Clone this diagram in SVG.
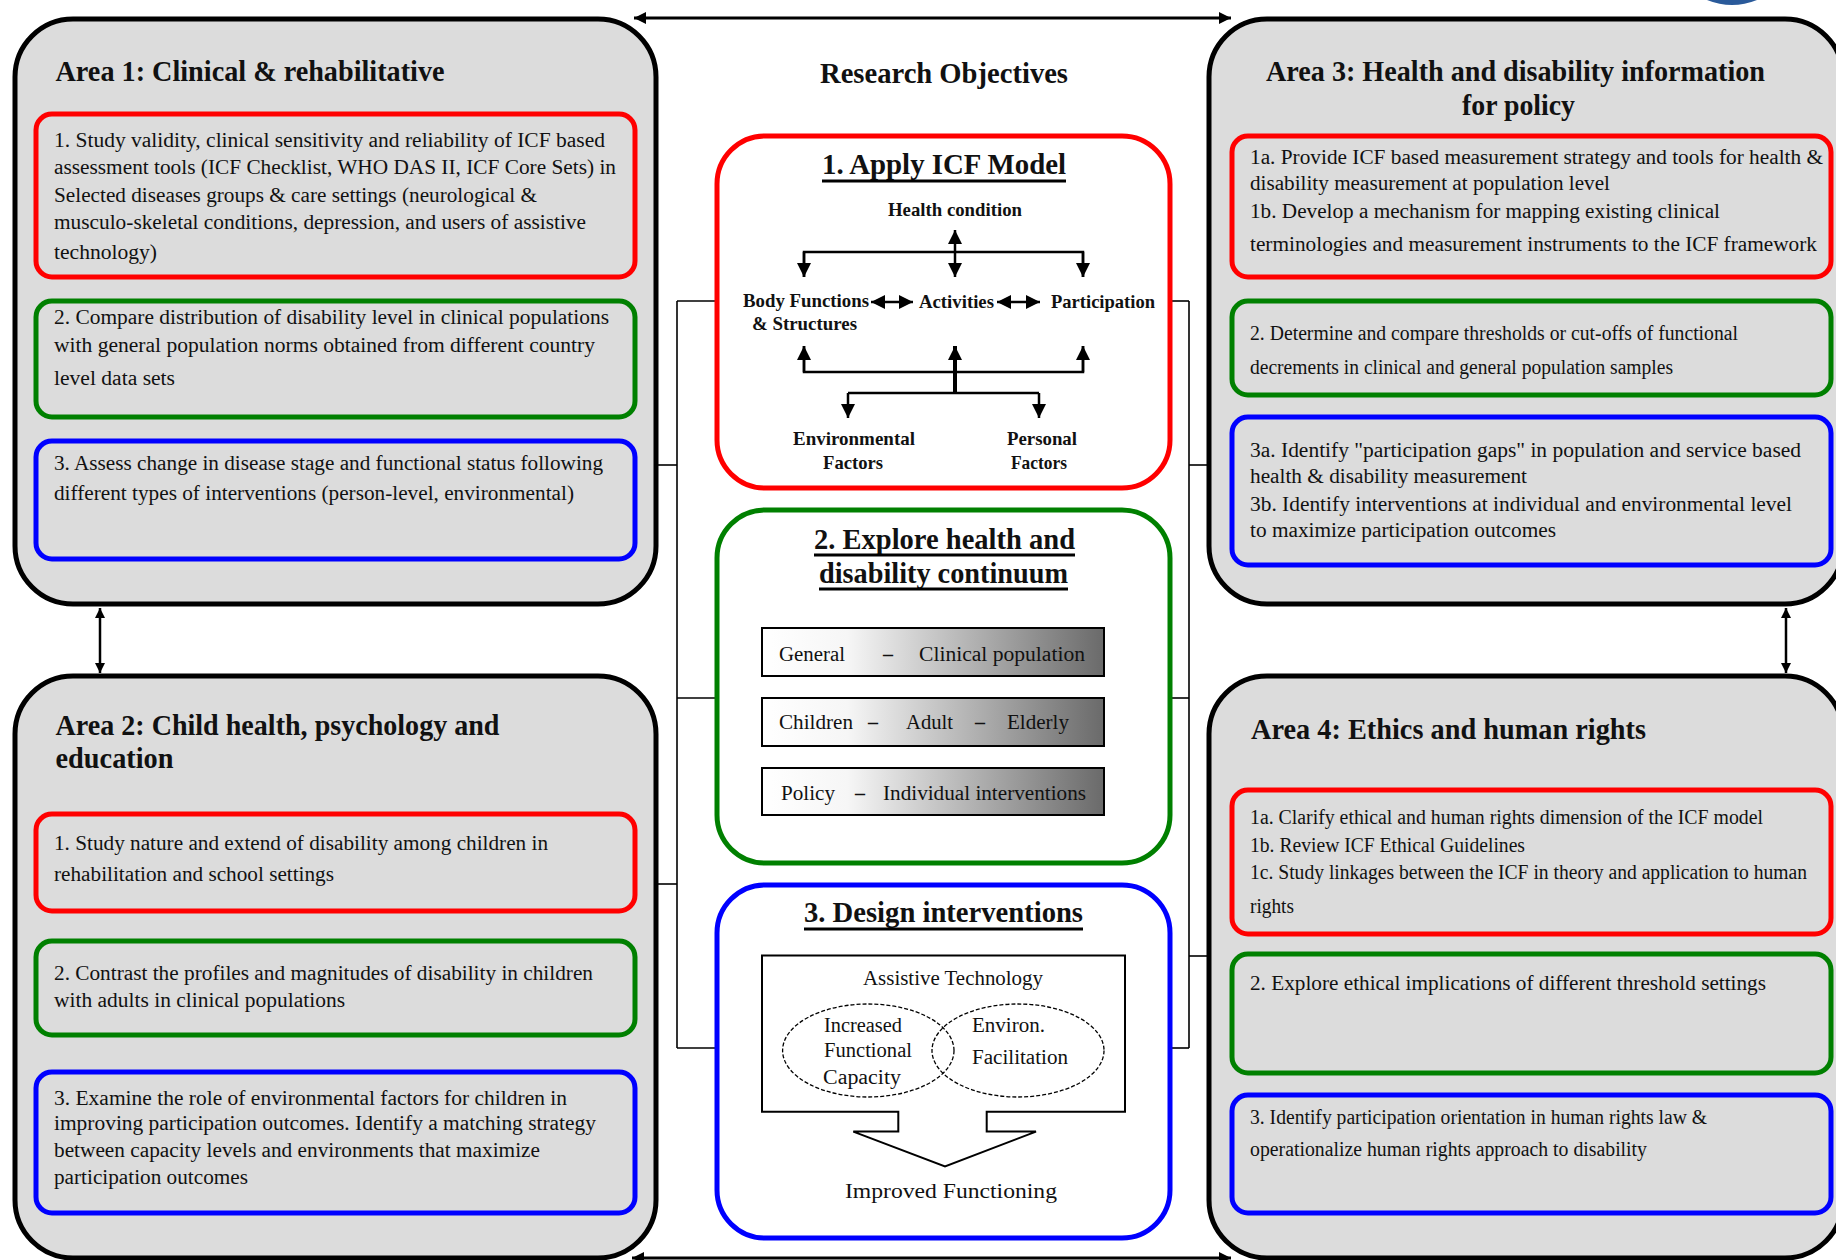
<svg xmlns="http://www.w3.org/2000/svg" width="1836" height="1260" viewBox="0 0 1836 1260">
<style>
.area{fill:#dcdcdc;stroke:#000;stroke-width:5}
.box{fill:none;stroke-width:5}
.obj{fill:#fff;stroke-width:5}
.r{stroke:#ff0000}.g{stroke:#008000}.b{stroke:#0000ff}
.t{font-family:"Liberation Serif","Times New Roman",serif;font-size:20px;fill:#111}
.h{font-family:"Liberation Serif","Times New Roman",serif;font-size:29px;font-weight:bold;fill:#111}
.ct{font-family:"Liberation Serif","Times New Roman",serif;font-size:30px;font-weight:bold;fill:#111}
.icf{font-family:"Liberation Serif","Times New Roman",serif;font-size:19px;font-weight:bold;fill:#111}
.dash{font-family:"Liberation Serif","Times New Roman",serif;font-size:22px;font-weight:bold;fill:#111}
.ul{stroke:#000;stroke-width:3}
.conn{stroke:#000;stroke-width:1.6;fill:none}
.icfl{stroke:#000;stroke-width:2.5;fill:none}
.gbox{fill:url(#grad);stroke:#000;stroke-width:2}
.venn{fill:none;stroke:#000;stroke-width:1.3;stroke-dasharray:4 2}
</style>
<defs>
<linearGradient id="grad" x1="0" y1="0" x2="1" y2="0">
<stop offset="0" stop-color="#ffffff"/>
<stop offset="0.25" stop-color="#f6f6f6"/>
<stop offset="1" stop-color="#6a6a6a"/>
</linearGradient>
<marker id="big" viewBox="0 0 10 10" refX="10" refY="5" markerWidth="16" markerHeight="12" markerUnits="userSpaceOnUse" orient="auto-start-reverse"><path d="M0,0 L10,5 L0,10 z" fill="#000"/></marker>
<marker id="small" viewBox="0 0 10 10" refX="10" refY="5" markerWidth="13" markerHeight="10" markerUnits="userSpaceOnUse" orient="auto-start-reverse"><path d="M0,0 L10,5 L0,10 z" fill="#000"/></marker>
<marker id="icf" viewBox="0 0 10 10" refX="10" refY="5" markerWidth="14" markerHeight="15" markerUnits="userSpaceOnUse" orient="auto-start-reverse"><path d="M0,0 L10,5 L0,10 z" fill="#000"/></marker>
</defs>
<rect width="1836" height="1260" fill="#fff"/>
<path d="M1707,0 Q1732,10 1757,0 Z" fill="#2a5a9a"/>

<g id="connectors">
<line class="conn" x1="677" y1="301" x2="677" y2="1048"/>
<line class="conn" x1="677" y1="301" x2="718" y2="301"/>
<line class="conn" x1="657" y1="465" x2="677" y2="465"/>
<line class="conn" x1="677" y1="698" x2="718" y2="698"/>
<line class="conn" x1="657" y1="884" x2="677" y2="884"/>
<line class="conn" x1="677" y1="1048" x2="718" y2="1048"/>
<line class="conn" x1="1189" y1="301" x2="1189" y2="1048"/>
<line class="conn" x1="1169" y1="301" x2="1189" y2="301"/>
<line class="conn" x1="1189" y1="465" x2="1209" y2="465"/>
<line class="conn" x1="1169" y1="698" x2="1189" y2="698"/>
<line class="conn" x1="1189" y1="956" x2="1209" y2="956"/>
<line class="conn" x1="1169" y1="1048" x2="1189" y2="1048"/>
<line stroke="#000" stroke-width="3" x1="634" y1="18" x2="1231" y2="18" marker-start="url(#big)" marker-end="url(#big)"/>
<line stroke="#000" stroke-width="3" x1="632" y1="1258" x2="1231" y2="1258" marker-start="url(#big)" marker-end="url(#big)"/>
<line stroke="#000" stroke-width="2.5" x1="100" y1="608" x2="100" y2="673" marker-start="url(#small)" marker-end="url(#small)"/>
<line stroke="#000" stroke-width="2.5" x1="1786" y1="608" x2="1786" y2="673" marker-start="url(#small)" marker-end="url(#small)"/>
</g>

<g id="area1">
<rect class="area" x="15" y="19" width="641" height="585" rx="58"/>
<text class="h" x="55.5" y="81" textLength="389" lengthAdjust="spacingAndGlyphs">Area 1: Clinical &amp; rehabilitative</text>
<rect class="box r" x="36" y="114" width="599" height="163" rx="16"/>
<text class="t" x="54" y="147" textLength="551" lengthAdjust="spacingAndGlyphs">1. Study validity, clinical sensitivity and reliability of ICF based</text>
<text class="t" x="54" y="174" textLength="562" lengthAdjust="spacingAndGlyphs">assessment tools (ICF Checklist, WHO DAS II, ICF Core Sets) in</text>
<text class="t" x="54" y="202" textLength="483" lengthAdjust="spacingAndGlyphs">Selected diseases groups &amp; care settings (neurological &amp;</text>
<text class="t" x="54" y="229" textLength="532" lengthAdjust="spacingAndGlyphs">musculo-skeletal conditions, depression, and users of assistive</text>
<text class="t" x="54" y="259" textLength="103" lengthAdjust="spacingAndGlyphs">technology)</text>
<rect class="box g" x="36" y="301" width="599" height="116" rx="16"/>
<text class="t" x="54" y="324" textLength="555" lengthAdjust="spacingAndGlyphs">2. Compare distribution of disability level in clinical populations</text>
<text class="t" x="54" y="352" textLength="541" lengthAdjust="spacingAndGlyphs">with general population norms obtained from different country</text>
<text class="t" x="54" y="385" textLength="121" lengthAdjust="spacingAndGlyphs">level data sets</text>
<rect class="box b" x="36" y="441" width="599" height="118" rx="16"/>
<text class="t" x="54" y="470" textLength="549" lengthAdjust="spacingAndGlyphs">3. Assess change in disease stage and functional status following</text>
<text class="t" x="54" y="500" textLength="520" lengthAdjust="spacingAndGlyphs">different types of interventions (person-level, environmental)</text>
</g>

<g id="area2">
<rect class="area" x="15" y="676" width="641" height="582" rx="58"/>
<text class="h" x="55.5" y="735" textLength="444" lengthAdjust="spacingAndGlyphs">Area 2: Child health, psychology and</text>
<text class="h" x="55.5" y="768" textLength="118" lengthAdjust="spacingAndGlyphs">education</text>
<rect class="box r" x="36" y="814" width="599" height="97" rx="16"/>
<text class="t" x="54" y="850" textLength="494" lengthAdjust="spacingAndGlyphs">1. Study nature and extend of disability among children in</text>
<text class="t" x="54" y="881" textLength="280" lengthAdjust="spacingAndGlyphs">rehabilitation and school settings</text>
<rect class="box g" x="36" y="941" width="599" height="94" rx="16"/>
<text class="t" x="54" y="980" textLength="539" lengthAdjust="spacingAndGlyphs">2. Contrast the profiles and magnitudes of disability in children</text>
<text class="t" x="54" y="1007" textLength="291" lengthAdjust="spacingAndGlyphs">with adults in clinical populations</text>
<rect class="box b" x="36" y="1072" width="599" height="141" rx="16"/>
<text class="t" x="54" y="1105" textLength="513" lengthAdjust="spacingAndGlyphs">3. Examine the role of environmental factors for children in</text>
<text class="t" x="54" y="1130" textLength="542" lengthAdjust="spacingAndGlyphs">improving participation outcomes. Identify a matching strategy</text>
<text class="t" x="54" y="1157" textLength="486" lengthAdjust="spacingAndGlyphs">between capacity levels and environments that maximize</text>
<text class="t" x="54" y="1184" textLength="194" lengthAdjust="spacingAndGlyphs">participation outcomes</text>
</g>

<g id="area3">
<rect class="area" x="1209" y="19" width="634" height="585" rx="58"/>
<text class="h" x="1266" y="81" textLength="499" lengthAdjust="spacingAndGlyphs">Area 3: Health and disability information</text>
<text class="h" x="1462" y="115" textLength="113" lengthAdjust="spacingAndGlyphs">for policy</text>
<rect class="box r" x="1232" y="136" width="599" height="141" rx="16"/>
<text class="t" x="1250" y="164" textLength="573" lengthAdjust="spacingAndGlyphs">1a. Provide ICF based measurement strategy and tools for health &amp;</text>
<text class="t" x="1250" y="190" textLength="360" lengthAdjust="spacingAndGlyphs">disability measurement at population level</text>
<text class="t" x="1250" y="217.5" textLength="470" lengthAdjust="spacingAndGlyphs">1b. Develop a mechanism for mapping existing clinical</text>
<text class="t" x="1250" y="251" textLength="567" lengthAdjust="spacingAndGlyphs">terminologies and measurement instruments to the ICF framework</text>
<rect class="box g" x="1232" y="301" width="599" height="94" rx="16"/>
<text class="t" x="1250" y="340" textLength="488" lengthAdjust="spacingAndGlyphs">2. Determine and compare thresholds or cut-offs of functional</text>
<text class="t" x="1250" y="374" textLength="423" lengthAdjust="spacingAndGlyphs">decrements in clinical and general population samples</text>
<rect class="box b" x="1232" y="417" width="599" height="148" rx="16"/>
<text class="t" x="1250" y="457" textLength="551" lengthAdjust="spacingAndGlyphs">3a. Identify "participation gaps" in population and service based</text>
<text class="t" x="1250" y="483" textLength="277" lengthAdjust="spacingAndGlyphs">health &amp; disability measurement</text>
<text class="t" x="1250" y="511" textLength="542" lengthAdjust="spacingAndGlyphs">3b. Identify interventions at individual and environmental level</text>
<text class="t" x="1250" y="537" textLength="306" lengthAdjust="spacingAndGlyphs">to maximize participation outcomes</text>
</g>

<g id="area4">
<rect class="area" x="1209" y="676" width="634" height="582" rx="58"/>
<text class="h" x="1251" y="739" textLength="395" lengthAdjust="spacingAndGlyphs">Area 4: Ethics and human rights</text>
<rect class="box r" x="1232" y="790" width="599" height="144" rx="16"/>
<text class="t" x="1250" y="824" textLength="513" lengthAdjust="spacingAndGlyphs">1a. Clarify ethical and human rights dimension of the ICF model</text>
<text class="t" x="1250" y="851.5" textLength="275" lengthAdjust="spacingAndGlyphs">1b. Review ICF Ethical Guidelines</text>
<text class="t" x="1250" y="879" textLength="557" lengthAdjust="spacingAndGlyphs">1c. Study linkages between the ICF in theory and application to human</text>
<text class="t" x="1250" y="913" textLength="44" lengthAdjust="spacingAndGlyphs">rights</text>
<rect class="box g" x="1232" y="954" width="599" height="119" rx="16"/>
<text class="t" x="1250" y="990" textLength="516" lengthAdjust="spacingAndGlyphs">2. Explore ethical implications of different threshold settings</text>
<rect class="box b" x="1232" y="1095" width="599" height="118" rx="16"/>
<text class="t" x="1250" y="1124" textLength="457" lengthAdjust="spacingAndGlyphs">3. Identify participation orientation in human rights law &amp;</text>
<text class="t" x="1250" y="1156" textLength="397" lengthAdjust="spacingAndGlyphs">operationalize human rights approach to disability</text>
</g>

<g id="research-objectives">
<text class="h" x="820" y="83" textLength="248" lengthAdjust="spacingAndGlyphs">Research Objectives</text>
</g>

<g id="objective1">
<rect class="obj r" x="717" y="136" width="453" height="352" rx="48"/>
<text class="ct" x="822" y="174" textLength="244" lengthAdjust="spacingAndGlyphs">1. Apply ICF Model</text>
<line class="ul" x1="822" y1="181" x2="1066" y2="181"/>
<text class="icf" x="888" y="215.5" textLength="134" lengthAdjust="spacingAndGlyphs">Health condition</text>
<line class="icfl" x1="955" y1="230" x2="955" y2="277" marker-start="url(#icf)" marker-end="url(#icf)"/>
<path class="icfl" d="M804,277 V252 H1083 V277" />
<line class="icfl" x1="804" y1="252" x2="804" y2="277" marker-end="url(#icf)"/>
<line class="icfl" x1="1083" y1="252" x2="1083" y2="277" marker-end="url(#icf)"/>
<text class="icf" x="743" y="307" textLength="126" lengthAdjust="spacingAndGlyphs">Body Functions</text>
<text class="icf" x="752" y="330" textLength="105" lengthAdjust="spacingAndGlyphs">&amp; Structures</text>
<line class="icfl" x1="871" y1="302" x2="913" y2="302" marker-start="url(#icf)" marker-end="url(#icf)"/>
<text class="icf" x="919" y="308" textLength="75" lengthAdjust="spacingAndGlyphs">Activities</text>
<line class="icfl" x1="997" y1="302" x2="1040" y2="302" marker-start="url(#icf)" marker-end="url(#icf)"/>
<text class="icf" x="1051" y="308" textLength="104" lengthAdjust="spacingAndGlyphs">Participation</text>
<path class="icfl" d="M804,346 V372 H1083 V346"/>
<line class="icfl" x1="804" y1="372" x2="804" y2="346" marker-end="url(#icf)"/>
<line class="icfl" x1="1083" y1="372" x2="1083" y2="346" marker-end="url(#icf)"/>
<line stroke="#000" stroke-width="4" x1="955" y1="394" x2="955" y2="346" marker-end="url(#icf)"/>
<line class="icfl" x1="848" y1="393" x2="1039" y2="393"/>
<line class="icfl" x1="848" y1="393" x2="848" y2="418" marker-end="url(#icf)"/>
<line class="icfl" x1="1039" y1="393" x2="1039" y2="418" marker-end="url(#icf)"/>
<text class="icf" x="793" y="445" textLength="122" lengthAdjust="spacingAndGlyphs">Environmental</text>
<text class="icf" x="823" y="469" textLength="60" lengthAdjust="spacingAndGlyphs">Factors</text>
<text class="icf" x="1007" y="445" textLength="70" lengthAdjust="spacingAndGlyphs">Personal</text>
<text class="icf" x="1011" y="469" textLength="56" lengthAdjust="spacingAndGlyphs">Factors</text>
</g>

<g id="objective2">
<rect class="obj g" x="717" y="510" width="453" height="353" rx="48"/>
<text class="ct" x="814" y="548.5" textLength="261" lengthAdjust="spacingAndGlyphs">2. Explore health and</text>
<line class="ul" x1="814" y1="555" x2="1075" y2="555"/>
<text class="ct" x="819" y="582.5" textLength="249" lengthAdjust="spacingAndGlyphs">disability continuum</text>
<line class="ul" x1="819" y1="589" x2="1068" y2="589"/>
<rect class="gbox" x="762" y="628" width="342" height="48"/>
<text class="t" x="779" y="661" textLength="66" lengthAdjust="spacingAndGlyphs">General</text>
<text class="dash" x="883" y="661" textLength="10" lengthAdjust="spacingAndGlyphs">–</text>
<text class="t" x="919" y="661" textLength="166" lengthAdjust="spacingAndGlyphs">Clinical population</text>
<rect class="gbox" x="762" y="698" width="342" height="48"/>
<text class="t" x="779" y="729" textLength="74" lengthAdjust="spacingAndGlyphs">Children</text>
<text class="dash" x="868" y="729" textLength="10" lengthAdjust="spacingAndGlyphs">–</text>
<text class="t" x="906" y="729" textLength="47" lengthAdjust="spacingAndGlyphs">Adult</text>
<text class="dash" x="975" y="729" textLength="10" lengthAdjust="spacingAndGlyphs">–</text>
<text class="t" x="1007" y="729" textLength="62" lengthAdjust="spacingAndGlyphs">Elderly</text>
<rect class="gbox" x="762" y="768" width="342" height="47"/>
<text class="t" x="781" y="800" textLength="54" lengthAdjust="spacingAndGlyphs">Policy</text>
<text class="dash" x="855" y="800" textLength="10" lengthAdjust="spacingAndGlyphs">–</text>
<text class="t" x="883" y="800" textLength="203" lengthAdjust="spacingAndGlyphs">Individual interventions</text>
</g>

<g id="objective3">
<rect class="obj b" x="717" y="885" width="453" height="353" rx="48"/>
<text class="ct" x="804" y="922" textLength="279" lengthAdjust="spacingAndGlyphs">3. Design interventions</text>
<line class="ul" x1="804" y1="929" x2="1083" y2="929"/>
<path d="M762,955.6 H1125 V1111.7 H986.7 V1131.6 H1036 L945,1166.5 L853.3,1131.6 H898.3 V1111.7 H762 Z" fill="#fff" stroke="#000" stroke-width="2"/>
<text class="t" x="863" y="985" font-size="19" textLength="180" lengthAdjust="spacingAndGlyphs">Assistive Technology</text>
<ellipse class="venn" cx="868.3" cy="1050.5" rx="85.7" ry="46.5"/>
<ellipse class="venn" cx="1018" cy="1050.5" rx="86" ry="46.5"/>
<text class="t" x="824" y="1032" textLength="78" lengthAdjust="spacingAndGlyphs">Increased</text>
<text class="t" x="824" y="1057" textLength="88" lengthAdjust="spacingAndGlyphs">Functional</text>
<text class="t" x="823" y="1084" textLength="78" lengthAdjust="spacingAndGlyphs">Capacity</text>
<text class="t" x="972" y="1032" textLength="73" lengthAdjust="spacingAndGlyphs">Environ.</text>
<text class="t" x="972" y="1064" textLength="96" lengthAdjust="spacingAndGlyphs">Facilitation</text>
<text class="t" x="845" y="1198" font-size="21" textLength="212" lengthAdjust="spacingAndGlyphs">Improved Functioning</text>
</g>
</svg>
